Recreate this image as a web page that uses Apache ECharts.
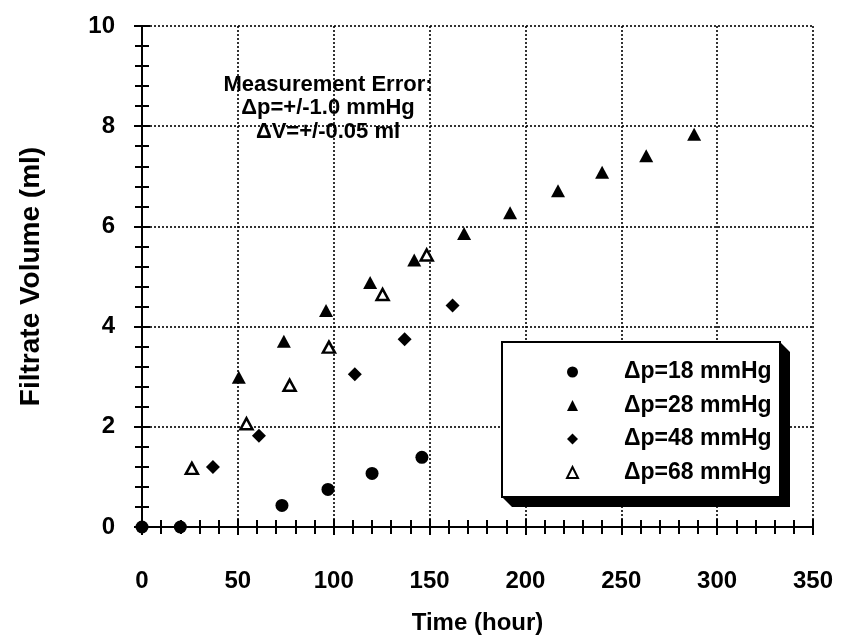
<!DOCTYPE html>
<html>
<head>
<meta charset="utf-8">
<script src="https://cdn.jsdelivr.net/npm/echarts@6/dist/echarts.min.js"></script>
<style>html,body{margin:0;padding:0;background:#fff;}#c{width:844px;height:641px;}</style>
</head>
<body>
<div id="c"></div>
<script>
// ---- data ----
const seriesNames = ['Δp=18 mmHg', 'Δp=28 mmHg', 'Δp=48 mmHg', 'Δp=68 mmHg'];
const time18 = [0, 20, 73, 97, 120, 146];
const vol18  = [0, 0, 0.43, 0.75, 1.07, 1.39];
const time28 = [50.5, 74, 96, 119, 142, 168, 192, 217, 240, 263, 288];
const vol28  = [2.99, 3.71, 4.32, 4.88, 5.33, 5.86, 6.27, 6.71, 7.08, 7.41, 7.84];
const time48 = [37, 61, 111, 137, 162];
const vol48  = [1.20, 1.82, 3.05, 3.75, 4.42];
const time68 = [26, 54.5, 77, 97.5, 125.5, 148.5];
const vol68  = [1.17, 2.06, 2.83, 3.59, 4.64, 5.43];
const xTicks = [0, 50, 100, 150, 200, 250, 300, 350];
const yTicks = [0, 2, 4, 6, 8, 10];
const noteLines = ['Measurement Error:', 'Δp=+/-1.0 mmHg', 'ΔV=+/-0.05 ml'];
const xTitle = 'Time (hour)';
const yTitle = 'Filtrate Volume (ml)';

const pairs = (xs, ys) => xs.map((x, i) => [x, ys[i]]);
const FONT = 'Liberation Sans';

const chart = echarts.init(document.getElementById('c'), null, {renderer: 'canvas'});

const mainAxisCommon = {
  axisLine: {show: true, lineStyle: {color: '#000', width: 2}},
  axisTick: {show: true, inside: true, length: 8, lineStyle: {color: '#000', width: 2}},
  minorTick: {show: true, splitNumber: 5, length: 7, lineStyle: {color: '#000', width: 2}},
  splitLine: {show: true, lineStyle: {color: '#000', width: 1.6, type: [2, 2]}},
  axisLabel: {color: '#000', fontFamily: FONT, fontWeight: 'bold', fontSize: 24}
};
const secAxisCommon = {
  axisLine: {show: true, lineStyle: {color: '#000', width: 1.5}},
  axisTick: {show: true, inside: true, length: 8, lineStyle: {color: '#000', width: 2}},
  minorTick: {show: true, splitNumber: 5, length: 7, lineStyle: {color: '#000', width: 2}},
  splitLine: {show: false},
  axisLabel: {show: false}
};

const option = {
  backgroundColor: '#fff',
  animation: false,
  grid: {left: 142, right: 31, top: 26, bottom: 114, containLabel: false},
  xAxis: [
    Object.assign({}, mainAxisCommon, {
      type: 'value', position: 'bottom', min: xTicks[0], max: xTicks[xTicks.length - 1], interval: 50,
      name: xTitle, nameLocation: 'middle', nameGap: 84,
      nameTextStyle: {color: '#000', fontFamily: FONT, fontWeight: 'bold', fontSize: 24},
      axisLabel: Object.assign({}, mainAxisCommon.axisLabel, {margin: 42})
    }),
    Object.assign({}, secAxisCommon, {
      type: 'value', position: 'top', min: xTicks[0], max: xTicks[xTicks.length - 1], interval: 50
    })
  ],
  yAxis: [
    Object.assign({}, mainAxisCommon, {
      type: 'value', position: 'left', min: yTicks[0], max: yTicks[yTicks.length - 1], interval: 2,
      name: yTitle, nameLocation: 'middle', nameGap: 97,
      nameTextStyle: {color: '#000', fontFamily: FONT, fontWeight: 'bold', fontSize: 28},
      axisLabel: Object.assign({}, mainAxisCommon.axisLabel, {margin: 27})
    }),
    Object.assign({}, secAxisCommon, {
      type: 'value', position: 'right', min: yTicks[0], max: yTicks[yTicks.length - 1], interval: 2
    })
  ],
  legend: {
    orient: 'vertical',
    left: 561, top: 355,
    itemWidth: 11, itemHeight: 11,
    itemGap: 9.5,
    z: 20,
    data: seriesNames,
    textStyle: {color: '#000', fontFamily: FONT, fontWeight: 'bold', fontSize: 23, lineHeight: 24, padding: [0, 0, 0, 41]}
  },
  graphic: [
    {
      type: 'polygon', z: 10,
      shape: {points: [[502, 342], [780, 342], [790, 352], [790, 507], [512, 507], [502, 497]]},
      style: {fill: '#000'}
    },
    {
      type: 'rect', z: 11,
      shape: {x: 502, y: 342, width: 278, height: 155},
      style: {fill: '#fff', stroke: '#000', lineWidth: 2}
    },
    {
      type: 'text', z: 10,
      x: 328, y: 73,
      style: {
        text: noteLines.join('\n'), fill: '#000', font: 'bold 22px "Liberation Sans"',
        textAlign: 'center', lineHeight: 23.5
      }
    }
  ],
  series: [
    {name: seriesNames[0], type: 'scatter', data: pairs(time18, vol18), symbol: 'circle', symbolSize: 13,
     itemStyle: {color: '#000', opacity: 1}, z: 5},
    {name: seriesNames[1], type: 'scatter', data: pairs(time28, vol28), symbol: 'triangle', symbolSize: [14, 13],
     itemStyle: {color: '#000', opacity: 1}, z: 5},
    {name: seriesNames[2], type: 'scatter', data: pairs(time48, vol48), symbol: 'diamond', symbolSize: [14, 14],
     itemStyle: {color: '#000', opacity: 1}, z: 5},
    {name: seriesNames[3], type: 'scatter', data: pairs(time68, vol68), symbol: 'triangle', symbolSize: [12, 11],
     itemStyle: {color: '#fff', borderColor: '#000', borderWidth: 2.5, opacity: 1}, z: 5}
  ]
};
chart.setOption(option);
</script>
</body>
</html>
